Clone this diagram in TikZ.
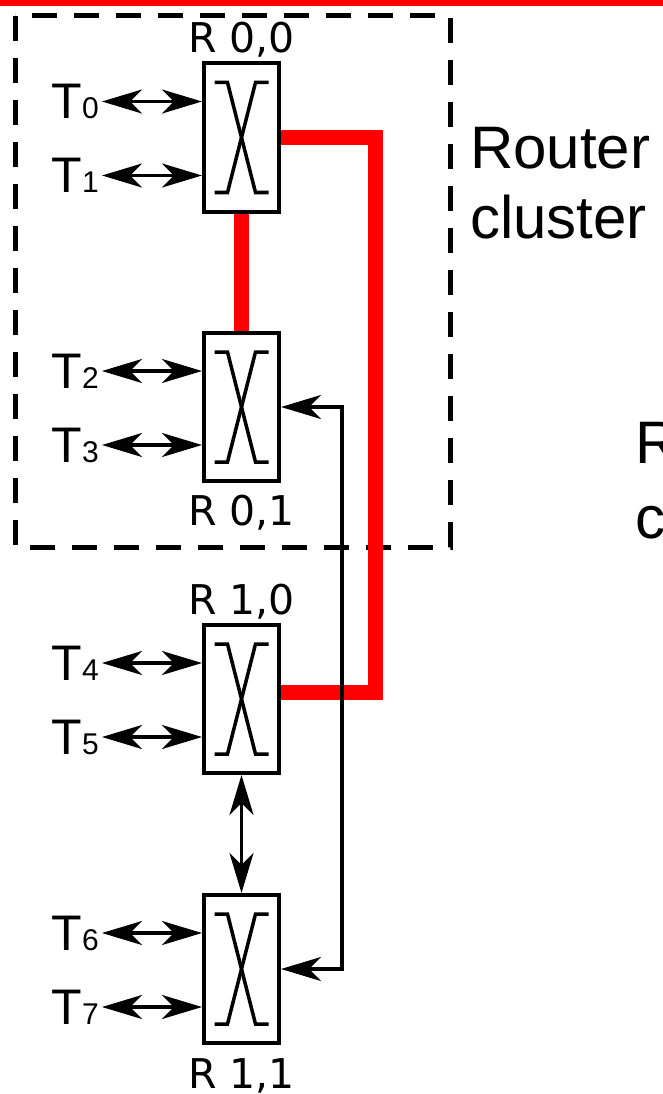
\documentclass[tikz,border=0pt]{standalone}
\usepackage{fontspec}
\setmainfont{Liberation Sans}
\newfontfamily\dejavu{DejaVu Sans}
\usepackage{tikz}
\usetikzlibrary{calc}
\usetikzlibrary{positioning}
\usetikzlibrary{arrows.meta}
\usetikzlibrary{backgrounds}
\newcommand{\subsz}{\fontsize{30pt}{30pt}\selectfont}

\begin{document}
\begin{tikzpicture}[x=1pt,y=-1pt,
    router/.style={draw,line width=4pt,minimum width=75pt,minimum height=148pt,inner sep=0pt},
    xsym/.style={line width=3.5pt},
    rname/.style={font=\dejavu\fontsize{41pt}{41pt}\selectfont,inner sep=0pt},
    tlabel/.style={font=\fontsize{50pt}{50pt}\selectfont,inner xsep=3pt,inner ysep=0pt},
    headtip/.tip={Stealth[length=40pt 0 0,width=24pt 0 0,inset=12pt 0]},
    biarrow/.style={headtip-headtip,line width=3.5pt},
    redlink/.style={red,line width=15pt},
    clusterbox/.style={line width=5pt,dash pattern=on 25pt off 17pt},
    bigtext/.style={font=\fontsize{60pt}{60pt}\selectfont,inner sep=0pt,anchor=base west}]
\useasboundingbox (0,0) rectangle (663,1094);
\fill[red] (0,0) rectangle (663,6);
\node[router] (r00) at (241.5,137.5) {};
\node[router] (r01) at (241.5,407) {};
\node[router] (r10) at (241.5,699) {};
\node[router] (r11) at (241.5,969) {};
\foreach \r in {r00,r01,r10,r11} {
  \draw[xsym] ($(\r.center)+(-27,-55)$) -- ++(13,0) -- ($(\r.center)+(14,55)$) -- ++(13,0);
  \draw[xsym] ($(\r.center)+(27,-55)$) -- ++(-13,0) -- ($(\r.center)+(-14,55)$) -- ++(-13,0);
}
\node[rname,above=4pt of r00] (n00) {R 0,0};
\node[rname,below=12pt of r01] (n01) {R 0,1};
\node[rname,above=4pt of r10] (n10) {R 1,0};
\node[rname,below=13pt of r11] (n11) {R 1,1};
\node[tlabel,anchor=east] (t0) at ($(r00.west)+(-100,-36)$) {T{\subsz 0}};
\node[tlabel,anchor=east] (t1) at ($(r00.west)+(-100,38)$) {T{\subsz 1}};
\node[tlabel,anchor=east] (t2) at ($(r01.west)+(-100,-36)$) {T{\subsz 2}};
\node[tlabel,anchor=east] (t3) at ($(r01.west)+(-100,38)$) {T{\subsz 3}};
\node[tlabel,anchor=east] (t4) at ($(r10.west)+(-100,-36)$) {T{\subsz 4}};
\node[tlabel,anchor=east] (t5) at ($(r10.west)+(-100,38)$) {T{\subsz 5}};
\node[tlabel,anchor=east] (t6) at ($(r11.west)+(-100,-36)$) {T{\subsz 6}};
\node[tlabel,anchor=east] (t7) at ($(r11.west)+(-100,38)$) {T{\subsz 7}};
\draw[biarrow] (t0.east) -- (t0.east -| r00.west);
\draw[biarrow] (t1.east) -- (t1.east -| r00.west);
\draw[biarrow] (t2.east) -- (t2.east -| r01.west);
\draw[biarrow] (t3.east) -- (t3.east -| r01.west);
\draw[biarrow] (t4.east) -- (t4.east -| r10.west);
\draw[biarrow] (t5.east) -- (t5.east -| r10.west);
\draw[biarrow] (t6.east) -- (t6.east -| r11.west);
\draw[biarrow] (t7.east) -- (t7.east -| r11.west);
\draw[biarrow] (r10.south) -- (r11.north);
\coordinate (xline) at (342,0);
\draw[biarrow] (r01.east) -- (r01.east -| xline) |- (r11.east);
\coordinate (rc) at (375,692);
\begin{scope}[on background layer]
\draw[clusterbox] (15,16) rectangle (450,547);
\draw[redlink] (r00.south) -- (r01.north);
\draw[redlink] (r00.east) -| (rc) -- (rc -| r10.east);
\end{scope}
\node[bigtext] (rt1) at (470,168) {Router};
\node[bigtext] (rt2) at (470,238) {cluster};
\node[bigtext] (rt3) at (635,463) {R};
\node[bigtext] (rt4) at (635,538) {c};
\end{tikzpicture}
\end{document}
